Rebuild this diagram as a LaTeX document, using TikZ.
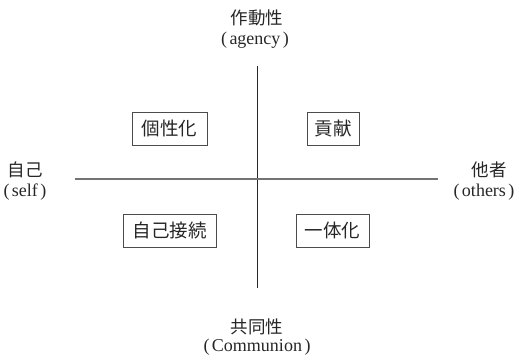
\documentclass[tikz,border=0pt]{standalone}
\usepackage{fontspec}
\setmainfont{Liberation Serif}
\newfontfamily\jp{Noto Sans CJK JP}
\newcommand{\paren}[1]{(\hspace{2.5pt}#1\hspace{2.5pt})}
\begin{document}
\begin{tikzpicture}[x=1pt,y=-1pt,
  labj/.style={font=\jp\fontsize{17.5}{20}\selectfont, text=black!85, inner sep=0pt},
  labe/.style={font=\fontsize{18}{20}\selectfont, text=black!85, inner sep=0pt},
  qbox/.style={draw=black!70, line width=0.9pt, font=\jp\fontsize{18.5}{20}\selectfont, text=black!85, inner sep=0pt, minimum height=33pt},
  axisv/.style={draw=black!85, line width=1pt},
  axish/.style={draw=black!55, line width=1.2pt}]
\useasboundingbox (0,0) rectangle (521,359);
\coordinate (vt) at (257,66);
\coordinate (vb) at (257,288);
\coordinate (hl) at (75,179);
\coordinate (hr) at (438,179);
\draw[axisv] (vt) -- (vb);
\draw[axish] (hl) -- (hr);
\node[labj] (top1) at (257,18) {作動性};
\node[labe] (top2) at (255,40) {\paren{agency}};
\node[labj] (left1) at (25,170) {自己};
\node[labe] (left2) at (25,192) {\paren{self}};
\node[labj] (right1) at (489,170) {他者};
\node[labe] (right2) at (484,192) {\paren{others}};
\node[labj] (bot1) at (257,327) {共同性};
\node[labe] (bot2) at (257,347) {\paren{Communion}};
\node[qbox, minimum width=75pt] (q1) at (169.5,128.5) {個性化};
\node[qbox, minimum width=52pt] (q2) at (333,128.5) {貢献};
\node[qbox, minimum width=93pt] (q3) at (169.5,230.5) {自己接続};
\node[qbox, minimum width=73pt] (q4) at (332.5,230.5) {一体化};
\end{tikzpicture}
\end{document}
